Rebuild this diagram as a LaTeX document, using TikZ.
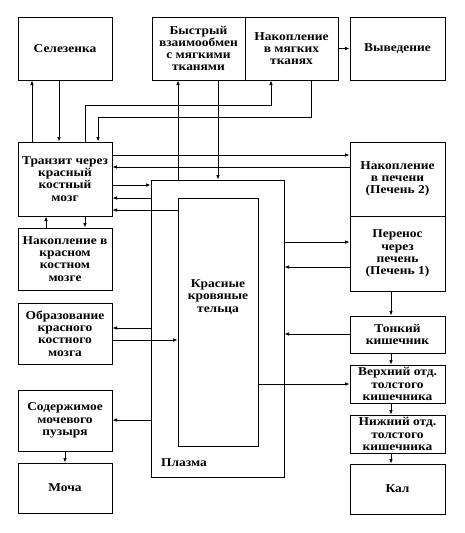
\documentclass[tikz,border=0pt]{standalone}
\usepackage{fontspec}
\setmainfont{Liberation Serif}[FakeStretch=1.12]
\usetikzlibrary{arrows.meta}
\tikzset{
  box/.style={draw, line width=1pt, align=center, inner sep=1pt,
    font=\fontsize{12}{12.2}\selectfont\bfseries},
  lbl/.style={align=center, inner sep=1pt, font=\fontsize{12}{12.2}\selectfont\bfseries},
  arr/.style={line width=0.7pt, -{Latex[length=4.5pt,width=3.6pt]}},
}
\begin{document}
\begin{tikzpicture}[x=1pt,y=-1pt]
\useasboundingbox (0,0) rectangle (464,533);
% left column
\node[box, minimum width=94pt, minimum height=63pt] (sel) at (65,48.5) {Селезенка};
\node[box, minimum width=94pt, minimum height=74pt] (tra) at (65,179) {Транзит через\\красный\\костный\\мозг};
\node[box, minimum width=94pt, minimum height=62pt] (nkm) at (65,259) {Накопление в\\красном\\костном\\мозге};
\node[box, minimum width=94pt, minimum height=61pt] (obr) at (65,333.5) {Образование\\красного\\костного\\мозга};
\node[box, minimum width=94pt, minimum height=61pt] (sod) at (65,420.5) {Содержимое\\мочевого\\пузыря};
\node[box, minimum width=94pt, minimum height=50pt] (moc) at (65,488) {Моча};
% top row
\node[box, minimum width=93pt, minimum height=63pt] (bys) at (198.5,48.5) {Быстрый\\взаимообмен\\с мягкими\\тканями};
\node[box, minimum width=93pt, minimum height=63pt] (nak) at (291.5,48.5) {Накопление\\в мягких\\тканях};
\node[box, minimum width=95pt, minimum height=63pt] (vyv) at (397.5,48.5) {Выведение};
% right column
\node[box, minimum width=95pt, minimum height=74pt] (pe2) at (397.5,179) {Накопление\\в печени\\(Печень 2)};
\node[box, minimum width=95pt, minimum height=75pt] (pe1) at (397.5,253.5) {Перенос\\через\\печень\\(Печень 1)};
\node[box, minimum width=95pt, minimum height=37pt] (ton) at (397.5,334.5) {Тонкий\\кишечник};
\node[box, minimum width=95pt, minimum height=38pt] (ver) at (397.5,384) {Верхний отд.\\толстого\\кишечника};
\node[box, minimum width=95pt, minimum height=38pt] (niz) at (397.5,434) {Нижний отд.\\толстого\\кишечника};
\node[box, minimum width=95pt, minimum height=50pt] (kal) at (397.5,489) {Кал};
% plasma and red cells
\node[box, minimum width=133pt, minimum height=297pt] (plasma) at (217.5,328.5) {};
\node[box, minimum width=80pt, minimum height=248pt] (rbc) at (218,322) {};
\node[lbl] (rbct) at (218,297) {Красные\\кровяные\\тельца};
\node[lbl, anchor=west] (plt) at (160,463) {Плазма};
% connectors
\draw[arr] (32,0 |- tra.north) -- (32,0 |- sel.south);
\draw[arr] (59,0 |- sel.south) -- (59,0 |- tra.north);
\draw[arr] (178,0 |- plasma.north) -- (178,0 |- bys.south);
\draw[arr] (218,0 |- bys.south) -- (218,0 |- plasma.north);
\draw[arr] (85,0 |- tra.north) |- (271,105) -- (271,0 |- nak.south);
\draw[arr] (311,0 |- nak.south) |- (98,117) -- (98,0 |- tra.north);
\draw[arr] (nak.east) -- (vyv.west);
\draw[arr] (tra.east |- 0,155) -- (pe2.west |- 0,155);
\draw[arr] (pe2.west |- 0,167) -- (tra.east |- 0,167);
\draw[arr] (tra.east |- 0,185) -- (plasma.west |- 0,185);
\draw[arr] (plasma.west |- 0,198) -- (tra.east |- 0,198);
\draw[arr] (rbc.west |- 0,210) -- (tra.east |- 0,210);
\draw[arr] (46,0 |- nkm.north) -- (46,0 |- tra.south);
\draw[arr] (85,0 |- tra.south) -- (85,0 |- nkm.north);
\draw[arr] (plasma.west |- 0,328) -- (obr.east |- 0,328);
\draw[arr] (obr.east |- 0,340) -- (rbc.west |- 0,340);
\draw[arr] (plasma.west |- 0,420) -- (sod.east |- 0,420);
\draw[arr] (sod.south) -- (moc.north);
\draw[arr] (plasma.east |- 0,242) -- (pe1.west |- 0,242);
\draw[arr] (pe1.west |- 0,267) -- (plasma.east |- 0,267);
\draw[arr] (ton.west |- 0,334) -- (plasma.east |- 0,334);
\draw[arr] (rbc.east |- 0,384) -- (ver.west |- 0,384);
\draw[arr] (391,0 |- pe1.south) -- (391,0 |- ton.north);
\draw[arr] (391,0 |- ton.south) -- (391,0 |- ver.north);
\draw[arr] (391,0 |- ver.south) -- (391,0 |- niz.north);
\draw[arr] (391,0 |- niz.south) -- (391,0 |- kal.north);
\end{tikzpicture}
\end{document}
